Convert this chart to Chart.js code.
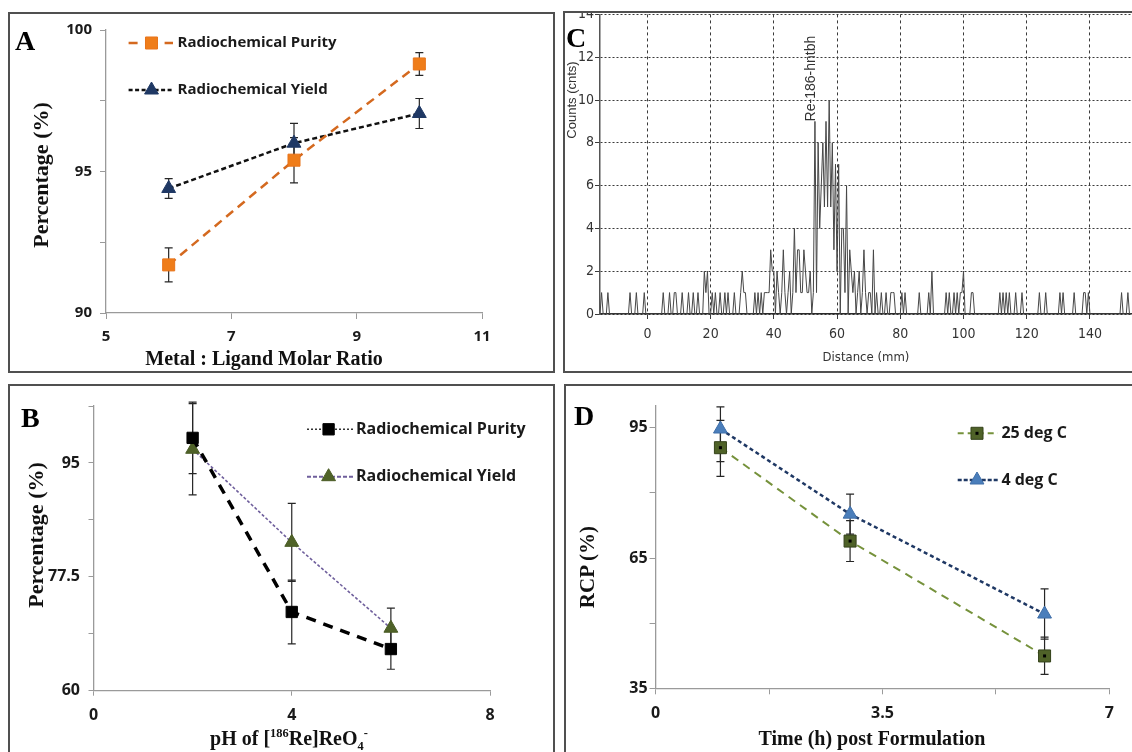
<!DOCTYPE html>
<html>
<head>
<meta charset="utf-8">
<title>Re-186 labelling panels</title>
<script src="https://cdn.jsdelivr.net/npm/chart.js@4.4.1/dist/chart.umd.min.js"></script>
<style>
  html, body { margin: 0; padding: 0; background: #fff; }
  body { position: relative; width: 1132px; height: 752px; overflow: hidden; }
  .box { position: absolute; box-sizing: border-box; border: 2px solid #505050; }
  canvas { position: absolute; }
  .letter { position: absolute; font: bold 28px/28px 'Liberation Serif', serif; color: #000; }
  .title { position: absolute; white-space: nowrap; font-family: 'Liberation Serif', serif; font-weight: bold; color: #111; transform: translate(-50%, -50%); }
  .title.rot { transform: translate(-50%, -50%) rotate(-90deg); }
  .title sup, .title sub { font-size: 0.62em; line-height: 0; }
  .scan { font-family: 'Liberation Sans', Arial, sans-serif; font-weight: normal; color: #333; }
</style>
</head>
<body>
<div class="box" style="left:8px;top:12px;width:547px;height:361px"></div>
<div class="box" style="left:563px;top:11px;width:580px;height:362px"></div>
<div class="box" style="left:8px;top:384px;width:547px;height:380px"></div>
<div class="box" style="left:564px;top:384px;width:580px;height:380px"></div>

<canvas id="chartA" width="543" height="357" style="left:10px;top:14px"></canvas>
<canvas id="chartC" width="567" height="358" style="left:565px;top:13px"></canvas>
<canvas id="chartB" width="543" height="364" style="left:10px;top:386px"></canvas>
<canvas id="chartD" width="566" height="364" style="left:566px;top:386px"></canvas>

<div class="letter" style="left:15px;top:27px">A</div>
<div class="letter" style="left:566px;top:24px">C</div>
<div class="letter" style="left:21px;top:404px">B</div>
<div class="letter" style="left:574px;top:402px">D</div>

<div class="title rot" style="left:41px;top:175px;font-size:22px">Percentage (%)</div>
<div class="title" style="left:264px;top:358px;font-size:20px">Metal : Ligand Molar Ratio</div>
<div class="title rot" style="left:36px;top:535px;font-size:22px">Percentage (%)</div>
<div class="title" style="left:289px;top:738px;font-size:20px">pH of [<sup>186</sup>Re]ReO<sub>4</sub><sup>-</sup></div>
<div class="title rot scan" style="left:571px;top:100px;font-size:13px">Counts (cnts)</div>
<div class="title scan" style="left:866px;top:356px;font-size:13px;font-family:'Liberation Sans Narrow','DejaVu Sans Condensed',sans-serif">Distance (mm)</div>
<div class="title rot" style="left:587px;top:567px;font-size:21px">RCP (%)</div>
<div class="title" style="left:872px;top:738px;font-size:20px">Time (h) post Formulation</div>

<script>
// Panel A: metal : ligand molar ratio
const ratioA = [6, 8, 10];
const purityA = [91.7, 95.4, 98.8];
const purityErrA = [0.6, 0.8, 0.4];
const yieldA = [94.4, 96.0, 97.05];
const yieldErrA = [0.35, 0.7, 0.53];
const ratioTicksA = [5, 7, 9, 11];
const pctTicksA = [90, 92.5, 95, 97.5, 100];
const pctLabelsA = [90, 95, 100];

// Panel B: pH of the perrhenate
const phB = [2, 4, 6];
const purityB = [98.85, 72.1, 66.4];
const purityErrB = [5.5, 4.9, 3.1];
const yieldB = [97.1, 82.8, 69.6];
const yieldErrB = [7.0, 6.0, 3.1];
const phTicksB = [0, 4, 8];
const pctTicksB = [60, 68.75, 77.5, 86.25, 95, 103.75];
const pctLabelsB = [60, 77.5, 95];

// Panel C: radio-TLC scan, one count every 0.5 mm starting at -15 mm
const distStart = -15;
const distStep = 0.5;
const counts = [
  0,1,0,0,0,1,0,0,0,0,0,0,0,0,0,0,0,0,0,1,   // -15 .. -5.5
  0,0,0,1,0,0,0,0,1,0,0,0,0,0,0,0,0,0,0,0,   // -5 .. 4.5
  1,0,0,0,1,0,0,1,1,0,0,0,1,0,0,0,1,0,0,1,   // 5 .. 14.5
  0,0,1,0,0,0,2,1,2,0,0,1,0,1,0,0,1,0,0,1,   // 15 .. 24.5
  0,1,0,0,0,1,0,0,0,1,2,1,1,0,0,0,0,0,1,0,   // 25 .. 34.5
  1,0,1,0,1,1,1,1,3,2,2,0,2,1,0,1,3,1,0,1,   // 35 .. 44.5
  2,0,1,4,1,3,3,1,1,3,2,1,1,2,0,1,9,1,8,4,   // 45 .. 54.5
  6,8,5,9,5,10,5,8,3,7,2,7,0,4,4,1,6,0,3,2,  // 55 .. 64.5
  1,2,0,1,2,0,1,3,1,0,1,1,0,3,0,1,0,0,1,0,   // 65 .. 74.5
  0,1,0,0,1,1,1,0,0,0,0,1,0,1,0,0,0,0,0,0,   // 75 .. 84.5
  0,0,1,0,0,0,0,0,1,0,2,0,0,0,0,0,0,0,0,1,   // 85 .. 94.5
  0,1,0,0,1,0,1,0,1,1,2,0,0,0,0,1,1,0,0,0,   // 95 .. 104.5
  0,0,0,0,0,0,0,0,0,0,0,0,0,1,0,1,0,1,0,1,   // 105 .. 114.5
  0,0,0,1,0,0,0,1,0,0,0,0,0,0,0,0,0,0,1,0,   // 115 .. 124.5
  0,0,1,0,0,0,0,0,0,0,0,1,0,1,0,0,0,0,0,0,   // 125 .. 134.5
  1,0,0,0,0,0,1,1,0,1,0,0,0,0,0,0,0,0,0,0,   // 135 .. 144.5
  0,0,0,0,0,0,0,0,0,0,1,0,0,0,1,0,0          // 145 .. 153
];
const distTicks = [0, 20, 40, 60, 80, 100, 120, 140];
const countTicks = [0, 2, 4, 6, 8, 10, 12, 14];

// Panel D: stability after formulation
const timeD = [1, 3, 6];
const rcp25 = [90.4, 68.9, 42.45];
const rcp25Plus = [6.3, 4.7, 4.35];
const rcp25Minus = [6.6, 4.7, 4.25];
const rcp4 = [94.7, 75.1, 52.1];
const rcp4Plus = [5.1, 4.6, 5.8];
const rcp4Minus = [7.5, 4.6, 5.8];
const timeTicks = [0, 1.75, 3.5, 5.25, 7];
const timeLabels = [0, 3.5, 7];
const rcpTicks = [35, 50, 65, 80, 95];
const rcpLabels = [35, 65, 95];

const toPoints = (xs, ys) => xs.map((x, i) => ({ x, y: ys[i] }));
const fixTicks = values => scale => { scale.ticks = values.map(value => ({ value })); };
const onlyLabels = shown => v => (shown.includes(v) ? String(v) : '');

// vertical error bars, drawn under the markers
const errorBars = {
  id: 'errorBars',
  beforeDatasetsDraw(chart) {
    const { ctx } = chart;
    const y = chart.scales.y;
    chart.data.datasets.forEach((ds, i) => {
      if (!ds.errPlus) return;
      const meta = chart.getDatasetMeta(i);
      ctx.save();
      ctx.strokeStyle = '#262626';
      ctx.lineWidth = 1.2;
      meta.data.forEach((pt, j) => {
        const v = ds.data[j].y;
        const top = y.getPixelForValue(v + ds.errPlus[j]);
        const bottom = y.getPixelForValue(v - ds.errMinus[j]);
        ctx.beginPath();
        ctx.moveTo(pt.x, top); ctx.lineTo(pt.x, bottom);
        ctx.moveTo(pt.x - 4, top); ctx.lineTo(pt.x + 4, top);
        ctx.moveTo(pt.x - 4, bottom); ctx.lineTo(pt.x + 4, bottom);
        ctx.stroke();
      });
      ctx.restore();
    });
  }
};

// small black dot in the middle of the square markers (panel D)
const centerDots = {
  id: 'centerDots',
  afterDatasetsDraw(chart) {
    const { ctx } = chart;
    chart.data.datasets.forEach((ds, i) => {
      if (!ds.centerDot) return;
      ctx.save();
      ctx.fillStyle = '#000';
      chart.getDatasetMeta(i).data.forEach(pt => ctx.fillRect(pt.x - 1.5, pt.y - 1.5, 3, 3));
      ctx.restore();
    });
  }
};

// legend drawn as "- - marker - -  label" inside the plot
const lineLegend = {
  id: 'lineLegend',
  afterDraw(chart, args, opts) {
    if (!opts.items) return;
    const { ctx } = chart;
    opts.items.forEach(it => {
      const ds = chart.data.datasets[it.ds];
      ctx.save();
      ctx.strokeStyle = it.color;
      ctx.lineWidth = it.width;
      ctx.setLineDash(it.dash);
      ctx.beginPath();
      ctx.moveTo(it.x0, it.y);
      ctx.lineTo(it.x1, it.y);
      ctx.stroke();
      ctx.setLineDash([]);
      ctx.fillStyle = ds.pointBackgroundColor;
      ctx.strokeStyle = ds.pointBorderColor;
      ctx.lineWidth = ds.pointBorderWidth;
      Chart.helpers.drawPoint(ctx, { pointStyle: ds.pointStyle, radius: ds.pointRadius, rotation: 0, borderWidth: ds.pointBorderWidth }, it.mx, it.y);
      if (ds.centerDot) {
        ctx.fillStyle = '#000';
        ctx.fillRect(it.mx - 1.5, it.y - 1.5, 3, 3);
      }
      ctx.fillStyle = '#1a1a1a';
      ctx.font = opts.font;
      ctx.textBaseline = 'middle';
      ctx.fillText(ds.label, it.tx, it.y);
      ctx.restore();
    });
  }
};

// rotated peak name on the TLC scan
const peakLabel = {
  id: 'peakLabel',
  afterDatasetsDraw(chart, args, o) {
    if (!o.text) return;
    const { ctx } = chart;
    const { x, y } = chart.scales;
    ctx.save();
    ctx.translate(x.getPixelForValue(o.x), y.getPixelForValue(o.y));
    ctx.rotate(-Math.PI / 2);
    ctx.font = o.font;
    ctx.fillStyle = o.color;
    ctx.textAlign = 'left';
    ctx.textBaseline = 'middle';
    ctx.fillText(o.text, 0, 0);
    ctx.restore();
  }
};

Chart.register(errorBars, centerDots, lineLegend, peakLabel);

function axis(o) {
  return {
    type: 'linear',
    min: o.min,
    max: o.max,
    afterBuildTicks: fixTicks(o.ticks),
    afterFit: s => {
      if (o.width) s.width = o.width;
      if (o.height) s.height = o.height;
      s.paddingLeft = s.paddingRight = s.paddingTop = s.paddingBottom = 0;
    },
    ticks: {
      autoSkip: false, maxRotation: 0, minRotation: 0,
      padding: o.pad,
      color: o.color || '#1a1a1a',
      font: o.font,
      callback: o.labels ? onlyLabels(o.labels) : v => String(v)
    },
    grid: {
      drawOnChartArea: !!o.gridDash,
      drawTicks: true,
      tickLength: o.tick || 6,
      color: o.gridColor || '#9a9a9a',
      tickColor: o.tickColor || '#9a9a9a',
      lineWidth: 1
    },
    border: { color: o.axisColor || '#9a9a9a', width: o.axisWidth || 1.3, dash: o.gridDash || [] }
  };
}

function panelOptions(p) {
  return {
    responsive: false,
    animation: false,
    events: [],
    layout: { autoPadding: false, padding: p.padding },
    plugins: {
      legend: { display: false },
      tooltip: { enabled: false },
      lineLegend: p.legend || {},
      peakLabel: p.peak || {}
    },
    scales: { x: p.x, y: p.y }
  };
}

const tickFont = (size, weight) => ({ family: "'Open Sans', 'Liberation Sans', sans-serif", size, weight });

// A
new Chart(document.getElementById('chartA'), {
  type: 'line',
  data: {
    datasets: [
      {
        label: 'Radiochemical Purity', data: toPoints(ratioA, purityA), errPlus: purityErrA, errMinus: purityErrA,
        borderColor: '#d4691f', borderWidth: 2.5, borderDash: [9, 6], tension: 0,
        pointStyle: 'rect', pointRadius: 8.5, pointBackgroundColor: '#ef7d1a', pointBorderColor: '#e8741a', pointBorderWidth: 1
      },
      {
        label: 'Radiochemical Yield', data: toPoints(ratioA, yieldA), errPlus: yieldErrA, errMinus: yieldErrA,
        borderColor: '#111', borderWidth: 2.5, borderDash: [5, 3], tension: 0,
        pointStyle: 'triangle', pointRadius: 8, pointBackgroundColor: '#1f3864', pointBorderColor: '#1f3864', pointBorderWidth: 1
      }
    ]
  },
  options: panelOptions({
    padding: { left: 0, right: 71, top: 16, bottom: 0 },
    x: axis({ min: 5, max: 11, ticks: ratioTicksA, height: 58, pad: 9, font: tickFont(15, 'bold') }),
    y: axis({ min: 90, max: 100, ticks: pctTicksA, labels: pctLabelsA, width: 96, pad: 8, font: tickFont(15, 'bold') }),
    legend: {
      font: "bold 15px 'Open Sans', sans-serif",
      items: [
        { ds: 0, y: 29, x0: 118.6, x1: 163, mx: 141.5, tx: 167.5, color: '#d4691f', dash: [9, 9], width: 2.5 },
        { ds: 1, y: 76, x0: 118.6, x1: 163, mx: 141.5, tx: 167.5, color: '#111', dash: [4, 2.5], width: 2.5 }
      ]
    }
  })
});

// C
new Chart(document.getElementById('chartC'), {
  type: 'line',
  data: {
    datasets: [{
      label: 'Counts',
      data: counts.map((c, i) => ({ x: distStart + i * distStep, y: c })),
      borderColor: '#474747', borderWidth: 1, pointRadius: 0, tension: 0
    }]
  },
  options: panelOptions({
    padding: { left: 0, right: 0, top: 1.4, bottom: 0 },
    x: axis({
      min: -15, max: 153.3, ticks: distTicks, height: 57, pad: 6.6, tick: 5,
      font: { family: "'Liberation Sans Narrow', 'DejaVu Sans Condensed', sans-serif", size: 14 }, color: '#333',
      gridDash: [3, 3], gridColor: '#3a3a3a', tickColor: '#3a3a3a', axisColor: '#2a2a2a', axisWidth: 1.5
    }),
    y: axis({
      min: 0, max: 14, ticks: countTicks, width: 35, pad: 1, tick: 5,
      font: { family: "'Liberation Sans Narrow', 'DejaVu Sans Condensed', sans-serif", size: 14 }, color: '#333',
      gridDash: [2, 2], gridColor: '#3a3a3a', tickColor: '#3a3a3a', axisColor: '#555', axisWidth: 1.5
    }),
    peak: { text: 'Re-186-hntbh', x: 51.7, y: 9, font: "14px 'Liberation Sans', Arial, sans-serif", color: '#333' }
  })
});

// B
new Chart(document.getElementById('chartB'), {
  type: 'line',
  data: {
    datasets: [
      {
        label: 'Radiochemical Purity', data: toPoints(phB, purityB), errPlus: purityErrB, errMinus: purityErrB,
        borderColor: '#000', borderWidth: 3.5, borderDash: [10, 8], tension: 0,
        pointStyle: 'rect', pointRadius: 8, pointBackgroundColor: '#000', pointBorderColor: '#000', pointBorderWidth: 1
      },
      {
        label: 'Radiochemical Yield', data: toPoints(phB, yieldB), errPlus: yieldErrB, errMinus: yieldErrB,
        borderColor: '#6f5f9c', borderWidth: 1.6, borderDash: [3, 2], tension: 0,
        pointStyle: 'triangle', pointRadius: 8, pointBackgroundColor: '#4f6228', pointBorderColor: '#4a5c25', pointBorderWidth: 1
      }
    ]
  },
  options: panelOptions({
    padding: { left: 0, right: 63, top: 20, bottom: 0 },
    x: axis({ min: 0, max: 8, ticks: phTicksB, height: 59.3, pad: 9.7, tick: 5, font: tickFont(16, 'bold') }),
    y: axis({ min: 60, max: 103.75, ticks: pctTicksB, labels: pctLabelsB, width: 83.5, pad: 8.5, tick: 5, font: tickFont(16, 'bold') }),
    legend: {
      font: "bold 16px 'Open Sans', sans-serif",
      items: [
        { ds: 0, y: 43.3, x0: 297, x1: 343.6, mx: 318.6, tx: 346, color: '#333', dash: [2, 2], width: 1.5 },
        { ds: 1, y: 90.7, x0: 297, x1: 343.6, mx: 318.6, tx: 346, color: '#6f5f9c', dash: [4, 2], width: 2 }
      ]
    }
  })
});

// D
new Chart(document.getElementById('chartD'), {
  type: 'line',
  data: {
    datasets: [
      {
        label: '25 deg C', data: toPoints(timeD, rcp25), errPlus: rcp25Plus, errMinus: rcp25Minus, centerDot: true,
        borderColor: '#76923c', borderWidth: 2, borderDash: [8, 6], tension: 0,
        pointStyle: 'rect', pointRadius: 8.5, pointBackgroundColor: '#4f6228', pointBorderColor: '#34421a', pointBorderWidth: 1
      },
      {
        label: '4 deg C', data: toPoints(timeD, rcp4), errPlus: rcp4Plus, errMinus: rcp4Minus,
        borderColor: '#1f3864', borderWidth: 2.5, borderDash: [4, 3], tension: 0,
        pointStyle: 'triangle', pointRadius: 8, pointBackgroundColor: '#4a7ebb', pointBorderColor: '#3f6ea8', pointBorderWidth: 1
      }
    ]
  },
  options: panelOptions({
    padding: { left: 0, right: 22.6, top: 20, bottom: 0 },
    x: axis({ min: 0, max: 7, ticks: timeTicks, labels: timeLabels, height: 61.7, pad: 9.4, font: tickFont(16, 'bold') }),
    y: axis({ min: 35, max: 100, ticks: rcpTicks, labels: rcpLabels, width: 89.6, pad: 2, font: tickFont(16, 'bold') }),
    legend: {
      font: "bold 16px 'Open Sans', sans-serif",
      items: [
        { ds: 0, y: 47.3, x0: 391.7, x1: 431.8, mx: 411, tx: 435.4, color: '#76923c', dash: [6, 4], width: 2 },
        { ds: 1, y: 94, x0: 391.7, x1: 431.8, mx: 411, tx: 435.4, color: '#1f3864', dash: [4, 2], width: 2.5 }
      ]
    }
  })
});
</script>
</body>
</html>
